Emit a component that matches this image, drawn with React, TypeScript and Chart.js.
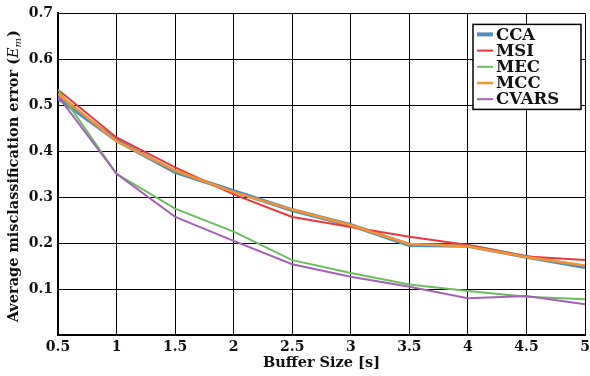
import React, { useEffect, useRef } from "react";
import { Chart, registerables } from "chart.js";

Chart.register(...registerables);

const bufferSizes = [0.5, 1, 1.5, 2, 2.5, 3, 3.5, 4, 4.5, 5];
const ccaValues = [0.516, 0.424, 0.355, 0.313, 0.272, 0.239, 0.196, 0.194, 0.170, 0.148];
const msiValues = [0.534, 0.430, 0.365, 0.306, 0.257, 0.235, 0.214, 0.196, 0.171, 0.163];
const mecValues = [0.534, 0.351, 0.275, 0.225, 0.163, 0.135, 0.110, 0.096, 0.083, 0.078];
const mccValues = [0.525, 0.422, 0.358, 0.311, 0.273, 0.239, 0.198, 0.193, 0.170, 0.151];
const cvarsValues = [0.520, 0.351, 0.257, 0.205, 0.154, 0.127, 0.105, 0.080, 0.085, 0.067];
const seriesNames = ["CCA", "MSI", "MEC", "MCC", "CVARS"];
const xTickValues = [0.5, 1, 1.5, 2, 2.5, 3, 3.5, 4, 4.5, 5];
const yTickValues = [0.1, 0.2, 0.3, 0.4, 0.5, 0.6, 0.7];
const yTitleMain = "Average misclassification error (";
const yTitleSymbol = "E";
const yTitleSub = "m";
const yTitleEnd = ")";

const FONT = "'DejaVu Serif', serif";
const colors = ["#4f8cc4", "#e8383d", "#6cbd5f", "#f8922a", "#a461b5"];
const widths = [4, 2, 2, 2.5, 2];

const legendPlugin = {
  id: "boxLegend",
  afterDraw(chart: any) {
    const ctx = chart.ctx;
    const area = chart.chartArea;
    const w = 108;
    const h = 85;
    const x0 = area.right - 4 - w;
    const y0 = area.top + 11;
    ctx.save();
    ctx.fillStyle = "#ffffff";
    ctx.fillRect(x0, y0, w, h);
    ctx.strokeStyle = "#000";
    ctx.lineWidth = 1.5;
    ctx.strokeRect(x0, y0, w, h);
    ctx.font = `bold 16.5px ${FONT}`;
    ctx.textBaseline = "middle";
    ctx.textAlign = "left";
    [0, 1, 2, 3, 4].forEach((i) => {
      const ds = chart.data.datasets[i];
      const cy = y0 + 10 + i * 16.2;
      ctx.strokeStyle = ds.borderColor;
      ctx.lineWidth = ds.borderWidth;
      ctx.beginPath();
      ctx.moveTo(x0 + 4, cy);
      ctx.lineTo(x0 + 20, cy);
      ctx.stroke();
      ctx.fillStyle = "#111";
      ctx.fillText(ds.label, x0 + 23, cy + 1);
    });
    ctx.restore();
  },
};

const yTitlePlugin = {
  id: "yTitle",
  afterDraw(chart: any) {
    const ctx = chart.ctx;
    const area = chart.chartArea;
    const cy = (area.top + area.bottom) / 2 + 2;
    const cx = 14;
    ctx.save();
    ctx.translate(cx, cy);
    ctx.rotate(-Math.PI / 2);
    ctx.textBaseline = "middle";
    ctx.textAlign = "left";
    ctx.fillStyle = "#111";
    const fMain = `bold 14.5px ${FONT}`;
    const fSym = `italic 14.5px ${FONT}`;
    const fSub = `italic 10px ${FONT}`;
    ctx.font = fMain;
    const w1 = ctx.measureText(yTitleMain).width;
    const w4 = ctx.measureText(yTitleEnd).width;
    ctx.font = fSym;
    const w2 = ctx.measureText(yTitleSymbol).width;
    ctx.font = fSub;
    const w3 = ctx.measureText(yTitleSub).width;
    const total = w1 + w2 + w3 + w4 + 1;
    let x = -total / 2;
    ctx.font = fMain;
    ctx.fillText(yTitleMain, x, 0);
    x += w1;
    ctx.font = fSym;
    ctx.fillText(yTitleSymbol, x, 0);
    x += w2;
    ctx.font = fSub;
    ctx.fillText(yTitleSub, x, 4);
    x += w3 + 1;
    ctx.font = fMain;
    ctx.fillText(yTitleEnd, x, 0);
    ctx.restore();
  },
};

export default function App() {
  const ref = useRef<HTMLCanvasElement>(null);
  useEffect(() => {
    document.body.style.margin = "0";
    const all = [ccaValues, msiValues, mecValues, mccValues, cvarsValues];
    const chart = new Chart(ref.current as HTMLCanvasElement, {
      type: "line",
      data: {
        datasets: all.map((vals, i) => ({
          label: seriesNames[i],
          data: bufferSizes.map((x, j) => ({ x, y: vals[j] })),
          borderColor: colors[i],
          backgroundColor: colors[i],
          borderWidth: widths[i],
          pointRadius: 0,
          tension: 0,
          fill: false,
          order: all.length - i,
        })),
      },
      options: {
        animation: false,
        responsive: false,
        maintainAspectRatio: false,
        layout: { padding: { left: 0, top: 10, right: 5, bottom: 0 } },
        plugins: {
          legend: { display: false },
          tooltip: { enabled: false },
        },
        scales: {
          x: {
            type: "linear",
            min: 0.5,
            max: 5,
            afterBuildTicks: (s: any) => {
              s.ticks = xTickValues.map((v) => ({ value: v }));
            },
            afterFit: (s: any) => {
              s.height = 41;
              s.paddingLeft = 0;
              s.paddingRight = 0;
            },
            ticks: {
              color: "#111",
              font: { family: FONT, weight: "bold", size: 14 },
              padding: 4,
              maxRotation: 0,
              autoSkip: false,
              callback: (v: any) => String(v),
            },
            grid: { color: "#000", lineWidth: 1, drawTicks: false },
            border: { color: "#000", width: 2 },
            title: {
              display: true,
              text: "Buffer Size [s]",
              color: "#111",
              font: { family: FONT, weight: "bold", size: 14.5 },
              padding: { top: 0, bottom: 4 },
            },
          },
          y: {
            type: "linear",
            min: 0,
            max: 0.7,
            afterBuildTicks: (s: any) => {
              s.ticks = [{ value: 0 }, ...yTickValues.map((v) => ({ value: v }))];
            },
            afterFit: (s: any) => {
              s.width = 58;
            },
            ticks: {
              color: "#111",
              font: { family: FONT, weight: "bold", size: 14 },
              padding: 5,
              callback: (v: any) => (v === 0 ? "" : String(v)),
            },
            grid: { color: "#000", lineWidth: 1, drawTicks: false },
            border: { color: "#000", width: 2 },
            title: { display: false },
          },
        },
      },
      plugins: [legendPlugin, yTitlePlugin],
    } as any);
    return () => chart.destroy();
  }, []);
  return (
    <div style={{ width: 590, height: 376 }}>
      <canvas ref={ref} width={590} height={376} style={{ display: "block" }} />
    </div>
  );
}
